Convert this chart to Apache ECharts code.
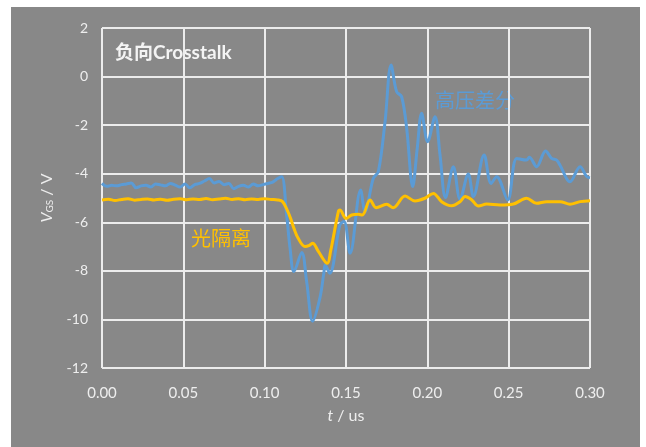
<!DOCTYPE html>
<html>
<head>
<meta charset="utf-8">
<script src="https://cdn.jsdelivr.net/npm/echarts@6/dist/echarts.min.js"></script>
<style>
  html, body { margin: 0; padding: 0; background: #ffffff; }
  #panel { position: absolute; left: 11px; top: 7px; width: 629px; height: 440px; background: #888888; }
  #chart { width: 629px; height: 440px; }
</style>
</head>
<body>
<div id="panel"><div id="chart"></div></div>
<script>
// Gate voltage V_GS during a negative crosstalk event, measured two ways
const xTicks = [0, 0.05, 0.10, 0.15, 0.20, 0.25, 0.30];
const yTicks = [-12, -10, -8, -6, -4, -2, 0, 2];

// High-voltage differential probe (time in us, voltage in V)
const diffTime = [
  0.000, 0.003, 0.006, 0.009, 0.012, 0.015, 0.018, 0.021, 0.024, 0.027,
  0.030, 0.033, 0.036, 0.039, 0.042, 0.045, 0.048, 0.051, 0.054, 0.057,
  0.060, 0.063, 0.066, 0.069, 0.072, 0.075, 0.078, 0.081, 0.084, 0.087,
  0.090, 0.093, 0.096, 0.099, 0.102, 0.105, 0.108, 0.1105, 0.1135, 0.1156,
  0.118, 0.1228, 0.1258, 0.1295, 0.134, 0.1365, 0.1372, 0.140, 0.1463, 0.1488,
  0.1525, 0.159, 0.1617, 0.1668, 0.1699, 0.174, 0.1777, 0.1811, 0.1842, 0.1873,
  0.191, 0.1938, 0.1965, 0.2002, 0.2047, 0.2078, 0.2112, 0.216, 0.2201, 0.2252,
  0.2283, 0.2349, 0.2392, 0.2426, 0.2494, 0.255, 0.261, 0.2627, 0.2672, 0.2727,
  0.2764, 0.2795, 0.2815, 0.2877, 0.2939, 0.298, 0.300
];
const diffVolt = [
  -4.40, -4.52, -4.48, -4.50, -4.45, -4.42, -4.38, -4.58, -4.50, -4.47,
  -4.55, -4.42, -4.46, -4.50, -4.40, -4.47, -4.55, -4.42, -4.58, -4.45,
  -4.40, -4.30, -4.20, -4.38, -4.32, -4.45, -4.40, -4.62, -4.52, -4.48,
  -4.55, -4.42, -4.50, -4.45, -4.40, -4.35, -4.20, -4.12, -5.70, -7.06,
  -8.03, -7.24, -8.44, -10.07, -9.10, -8.03, -7.76, -8.10, -6.10, -5.97,
  -7.28, -4.67, -5.56, -4.19, -3.91, -1.86, 0.48, -0.62, -0.83, -2.13,
  -4.53, -2.95, -1.51, -2.68, -1.65, -3.23, -4.98, -3.71, -5.05, -4.01,
  -4.94, -3.23, -4.40, -4.12, -5.08, -3.37, -3.44, -3.32, -3.71, -3.06,
  -3.37, -3.44, -3.64, -4.33, -3.71, -4.12, -4.17
];

// Optically isolated probe (time in us, voltage in V)
const optoTime = [
  0.000, 0.004, 0.008, 0.012, 0.016, 0.020, 0.024, 0.028, 0.032, 0.036,
  0.040, 0.044, 0.048, 0.052, 0.056, 0.060, 0.064, 0.068, 0.072, 0.076,
  0.080, 0.084, 0.088, 0.092, 0.096, 0.100, 0.104, 0.108, 0.111, 0.1135,
  0.116, 0.118, 0.1206, 0.1248, 0.1275, 0.1295, 0.133, 0.1385, 0.1405, 0.1453,
  0.1463, 0.150, 0.1535, 0.1576, 0.1600, 0.1648, 0.1685, 0.175, 0.179, 0.1863,
  0.1924, 0.1985, 0.2037, 0.2088, 0.215, 0.2201, 0.2232, 0.2273, 0.2314, 0.2365,
  0.2447, 0.2529, 0.261, 0.2672, 0.2734, 0.2816, 0.2877, 0.2939, 0.300
];
const optoVolt = [
  -5.08, -5.05, -5.10, -5.06, -5.03, -5.09, -5.06, -5.04, -5.08, -5.05,
  -5.09, -5.05, -5.03, -5.07, -5.04, -5.06, -5.02, -5.07, -5.04, -5.01,
  -5.06, -5.03, -5.07, -5.04, -5.06, -5.03, -5.06, -5.08, -5.15, -5.45,
  -5.85, -6.25, -6.66, -7.00, -6.95, -6.86, -7.20, -7.69, -7.20, -5.56,
  -5.49, -5.84, -5.70, -5.67, -5.70, -5.08, -5.40, -5.26, -5.40, -4.92,
  -5.12, -5.01, -4.81, -5.15, -5.32, -5.15, -4.94, -5.08, -5.33, -5.25,
  -5.29, -5.25, -5.01, -5.22, -5.15, -5.15, -5.26, -5.15, -5.11
];

const pairs = (xs, ys) => xs.map((x, i) => [x, ys[i]]);

const latin = 'Lato, "Noto Sans", sans-serif';
const mixed = 'Lato, "Noto Sans CJK SC", sans-serif';
const cjk = '"Noto Sans CJK SC", sans-serif';
const gridLine = { show: true, lineStyle: { color: '#ececec', width: 2 } };

const chart = echarts.init(document.getElementById('chart'), null, { renderer: 'canvas' });
chart.setOption({
  animation: false,
  backgroundColor: 'transparent',
  grid: { left: 91, right: 50, top: 21, bottom: 79 },
  xAxis: {
    type: 'value',
    min: xTicks[0], max: xTicks[xTicks.length - 1], interval: 0.05,
    axisLine: { show: false }, axisTick: { show: false },
    splitLine: gridLine,
    axisLabel: {
      color: '#eeeeee', fontFamily: latin, fontSize: 15, margin: 18,
      formatter: v => v.toFixed(2)
    },
    name: '{i|t}{n| / us}',
    nameLocation: 'middle', nameGap: 40,
    nameTextStyle: {
      rich: {
        i: { fontFamily: latin, fontSize: 16, fontStyle: 'italic', color: '#eeeeee' },
        n: { fontFamily: latin, fontSize: 16, color: '#eeeeee' }
      }
    }
  },
  yAxis: {
    type: 'value',
    min: yTicks[0], max: yTicks[yTicks.length - 1], interval: 2,
    axisLine: { show: false }, axisTick: { show: false },
    splitLine: gridLine,
    axisLabel: { color: '#eeeeee', fontFamily: latin, fontSize: 14, margin: 14 },
    name: '{i|V}{s|GS}{n| / V}',
    nameLocation: 'middle', nameGap: 47, nameRotate: 90,
    nameTextStyle: {
      rich: {
        i: { fontFamily: latin, fontSize: 16, fontStyle: 'italic', color: '#eeeeee' },
        s: { fontFamily: latin, fontSize: 10, color: '#eeeeee', verticalAlign: 'bottom', padding: [6, 0, 0, 0] },
        n: { fontFamily: latin, fontSize: 16, color: '#eeeeee' }
      }
    }
  },
  series: [
    {
      name: '高压差分', type: 'line', data: pairs(diffTime, diffVolt),
      showSymbol: false, smooth: 0.35, z: 3,
      lineStyle: { color: '#5b9bd5', width: 3 }
    },
    {
      name: '光隔离', type: 'line', data: pairs(optoTime, optoVolt),
      showSymbol: false, smooth: 0.35, z: 4,
      lineStyle: { color: '#ffc000', width: 3 }
    }
  ],
  graphic: [
    { type: 'text', left: 104, top: 36,
      style: { text: '负向Crosstalk', fill: '#f4f4f4', font: 'bold 19px ' + mixed } },
    { type: 'text', left: 424, top: 83,
      style: { text: '高压差分', fill: '#5b9bd5', font: '20px ' + cjk } },
    { type: 'text', left: 180, top: 221,
      style: { text: '光隔离', fill: '#ffc000', font: '20px ' + cjk } }
  ]
});
</script>
</body>
</html>
